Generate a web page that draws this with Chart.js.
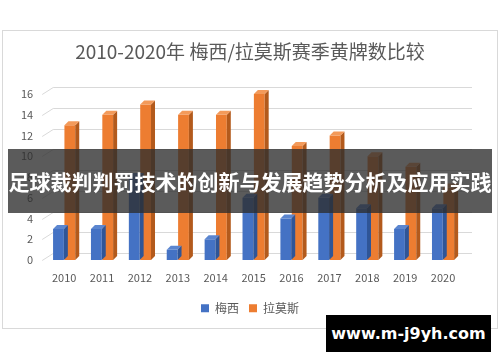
<!DOCTYPE html>
<html>
<head>
<meta charset="utf-8">
<script src="https://cdn.jsdelivr.net/npm/chart.js@4"></script>
<style>
  html,body{margin:0;padding:0;background:#fff;}
  body{width:500px;height:362px;position:relative;overflow:hidden;font-family:"Noto Sans CJK SC","Noto Sans",sans-serif;}
  #frame{position:absolute;left:2px;top:30px;width:494px;height:297px;border:1px solid #d9d9d9;}
  #wrap{position:absolute;left:0;top:0;width:500px;height:362px;}
  #banner{position:absolute;left:8px;top:149px;width:484px;height:64px;background:rgba(45,45,45,0.78);
    color:#fff;font-weight:bold;font-size:21px;line-height:64px;text-align:center;white-space:nowrap;}
  #mark{position:absolute;left:326px;top:315px;width:165px;height:37px;background:#000;color:#fff;
    font-family:"DejaVu Sans","Noto Sans",sans-serif;font-weight:bold;font-size:16px;line-height:37px;text-align:center;}
</style>
</head>
<body>
<div id="frame"></div>
<div id="wrap"><canvas id="c" width="500" height="362"></canvas></div>
<div id="banner">足球裁判判罚技术的创新与发展趋势分析及应用实践</div>
<div id="mark">www.m-j9yh.com</div>
<script>
const years=['2010','2011','2012','2013','2014','2015','2016','2017','2018','2019','2020'];
const messi=[3,3,8,1,2,6,4,6,5,3,5];
const ramos=[13,14,15,14,14,16,11,12,10,9,7];
const seriesNames=['梅西','拉莫斯'];
const chartTitle='2010-2020年 梅西/拉莫斯赛季黄牌数比较';

const depth=4;     // bar side/top faces
const wallX=8, wallY=7;   // back wall offset for the gridlines

const wall={
  id:'wall',
  beforeDatasetsDraw(chart){
    const ctx=chart.ctx, a=chart.chartArea, ys=chart.scales.y;
    ctx.save();
    ctx.strokeStyle='#d9d9d9';ctx.lineWidth=1;
    ys.ticks.forEach(t=>{
      const y=Math.round(ys.getPixelForValue(t.value))+0.5;
      ctx.beginPath();
      ctx.moveTo(a.left-3,y);
      ctx.lineTo(a.left+wallX,y-wallY);
      ctx.lineTo(a.right+wallX+2,y-wallY);
      ctx.stroke();
    });
    ctx.restore();
  }
};

const bar3d={
  id:'bar3d',
  afterDatasetsDraw(chart){
    const ctx=chart.ctx;
    const shades=['#2f5597','#b35a1c'];
    const tops=['#5b86d0','#f39a5a'];
    chart.data.datasets.forEach((ds,i)=>{
      chart.getDatasetMeta(i).data.forEach(b=>{
        const w=b.width, l=b.x-w/2, r=b.x+w/2, t=b.y, bot=b.base;
        ctx.save();
        ctx.fillStyle=shades[i];
        ctx.beginPath();
        ctx.moveTo(r,t);ctx.lineTo(r+depth,t-depth);ctx.lineTo(r+depth,bot-depth);ctx.lineTo(r,bot);
        ctx.closePath();ctx.fill();
        ctx.fillStyle=tops[i];
        ctx.beginPath();
        ctx.moveTo(l,t);ctx.lineTo(l+depth,t-depth);ctx.lineTo(r+depth,t-depth);ctx.lineTo(r,t);
        ctx.closePath();ctx.fill();
        ctx.restore();
      });
    });
  }
};

new Chart(document.getElementById('c'),{
  type:'bar',
  data:{
    labels:years,
    datasets:[
      {label:seriesNames[0],data:messi,backgroundColor:'#4472c4',categoryPercentage:0.6,barPercentage:0.95},
      {label:seriesNames[1],data:ramos,backgroundColor:'#ed7d31',categoryPercentage:0.6,barPercentage:0.95}
    ]
  },
  options:{
    responsive:false,
    animation:false,
    layout:{padding:{left:1,right:1,top:40.6,bottom:37.8}},
    plugins:{
      title:{display:true,text:chartTitle,color:'#595959',
        font:{family:'"Noto Sans CJK SC"',size:19,weight:'normal'},padding:{top:0,bottom:30.6}},
      legend:{position:'bottom',labels:{boxWidth:8,boxHeight:8,color:'#595959',padding:10,
        font:{family:'"Noto Sans CJK SC"',size:12}}},
      tooltip:{enabled:false}
    },
    scales:{
      x:{grid:{display:false},border:{display:false},
        ticks:{color:'#595959',font:{family:'"Noto Sans CJK SC"',size:11},padding:3},
        afterFit(s){s.height+=5;}},
      y:{min:0,max:16,border:{display:false},
        grid:{display:false,drawTicks:false},
        ticks:{stepSize:2,color:'#595959',font:{family:'"Noto Sans CJK SC"',size:11},padding:12},
        afterFit(s){s.width=44.2;}},
      y2:{position:'right',grid:{display:false,drawTicks:false},border:{display:false},
        ticks:{display:false},afterFit(s){s.width=37;}}
    }
  },
  plugins:[wall,bar3d]
});
</script>
</body>
</html>
